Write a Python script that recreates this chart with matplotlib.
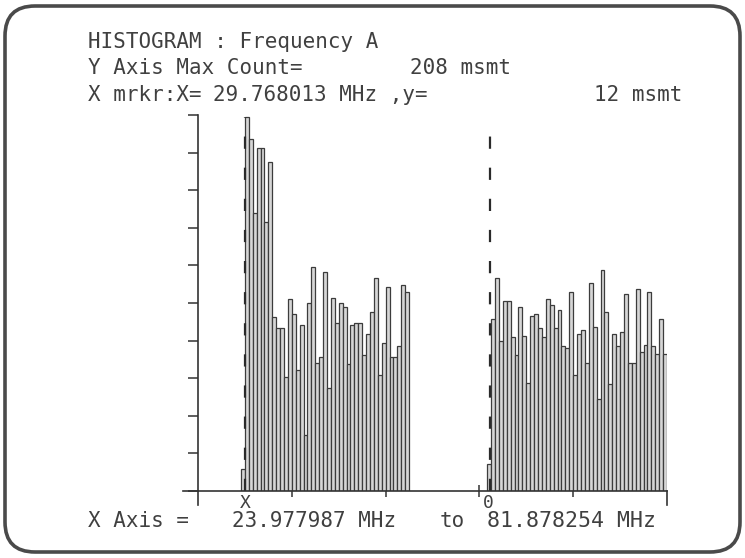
import numpy as np
import matplotlib
matplotlib.use("Agg")
import matplotlib.pyplot as plt
from matplotlib.patches import FancyBboxPatch

# ---------------- data ----------------
x_start_mhz = 23.977987
x_end_mhz = 81.878254
y_axis_max = 208
n_bins = 120
x_marker_mhz = 29.768013
o_marker_mhz = 60.03
marker_count = 12

left_start_bin = 11
left_counts = [12, 207, 195, 154, 190, 190, 149, 182, 96, 90, 90, 63, 106, 98,
               67, 92, 31, 104, 124, 71, 74, 121, 57, 107, 93, 104, 102, 70,
               92, 93, 93, 75, 87, 99, 118, 64, 82, 113, 74, 74, 80, 114, 110]

right_start_bin = 74
right_counts = [15, 95, 118, 83, 105, 105, 85, 75, 102, 86, 60, 97, 98, 90, 85,
                106, 103, 90, 100, 80, 79, 110, 64, 87, 89, 71, 115, 91, 51,
                122, 99, 59, 87, 80, 88, 109, 71, 71, 112, 77, 81, 110, 80, 76,
                95, 76]

header_line1 = "HISTOGRAM : Frequency A"
header_line2 = ("Y Axis Max Count=", "208 msmt")
header_line3 = ("X mrkr:X=", "29.768013 MHz ,y=", "12 msmt")
footer = ("X Axis =", "23.977987 MHz", "to", "81.878254 MHz")

# ---------------- figure ----------------
W, H = 745, 558
fig = plt.figure(figsize=(W / 100, H / 100), dpi=100)
fig.patch.set_facecolor("white")

bg = fig.add_axes([0, 0, 1, 1])
bg.set_xlim(0, W)
bg.set_ylim(H, 0)
bg.axis("off")
frame = FancyBboxPatch((5, 6), 735, 546, boxstyle="round,pad=0,rounding_size=30",
                       fill=False, ec="#4a4a4a", lw=2.6)
bg.add_patch(frame)

txt_color = "#404040"
font = dict(family="DejaVu Sans Mono", fontsize=15, color=txt_color, va="center", ha="left")

def ptext(x, y, s, **kw):
    d = dict(font)
    d.update(kw)
    bg.text(x, y, s, **d)

ptext(88, 42, header_line1)
ptext(88, 68, header_line2[0])
ptext(410, 68, header_line2[1])
ptext(88, 95, header_line3[0])
ptext(213, 95, header_line3[1])
ptext(594, 95, header_line3[2])
ptext(88, 521, footer[0])
ptext(232, 521, footer[1])
ptext(440, 521, footer[2])
ptext(487, 521, footer[3], fontsize=15.5)

# ---------------- chart ----------------
ax_l, ax_r, ax_top, ax_bot = 198, 667, 115, 491
ax = fig.add_axes([ax_l / W, (H - ax_bot) / H, (ax_r - ax_l) / W, (ax_bot - ax_top) / H])
ax.set_facecolor("none")
ax.set_xlim(x_start_mhz, x_end_mhz)
ax.set_ylim(0, y_axis_max)

bw = (x_end_mhz - x_start_mhz) / n_bins
px_x = (x_end_mhz - x_start_mhz) / (ax_r - ax_l)
px_y = y_axis_max / (ax_bot - ax_top)

lx = x_start_mhz + left_start_bin * bw + bw * np.arange(len(left_counts))
rx = x_start_mhz + right_start_bin * bw + bw * np.arange(len(right_counts))
for xs, cs in ((lx, left_counts), (rx, right_counts)):
    ax.bar(xs, cs, width=bw, align="edge", facecolor="#d6d6d6",
           edgecolor="#3c3c3c", linewidth=0.9, zorder=2)

# marker dashed lines
ax.plot([x_marker_mhz, x_marker_mhz], [0, y_axis_max - 1], color="#2a2a2a", lw=1.6,
        dashes=(5.5, 8.5), zorder=3)
ax.plot([o_marker_mhz, o_marker_mhz], [0, y_axis_max - 3], color="#2a2a2a", lw=1.6,
        dashes=(5.5, 8.5), zorder=3)

# axes lines
for s in ("top", "right", "bottom"):
    ax.spines[s].set_visible(False)
ax.spines["left"].set_color("#333333")
ax.spines["left"].set_linewidth(1.2)
ax.plot([x_start_mhz - 15 * px_x, x_end_mhz], [0, 0], color="#333333", lw=1.2,
        clip_on=False, zorder=4)
ax.plot([x_start_mhz, x_start_mhz], [0, -14 * px_y], color="#333333", lw=1.2, clip_on=False)
ax.plot([x_end_mhz, x_end_mhz], [0, -14 * px_y], color="#333333", lw=1.2, clip_on=False)

ax.set_yticks(np.linspace(0, y_axis_max, 11))
ax.tick_params(axis="y", direction="out", length=7, width=1.1, colors="#333333",
               labelleft=False)
ax.set_xticks(np.linspace(x_start_mhz, x_end_mhz, 6)[1:-1])
ax.tick_params(axis="x", direction="inout", length=9, width=1.1, colors="#333333",
               labelbottom=False)

ax.text(x_marker_mhz, -12 * px_y, "X", ha="center", va="center",
        family="DejaVu Sans Mono", fontsize=13, color=txt_color, clip_on=False)
ax.text(o_marker_mhz - 0.2, -12 * px_y, "0", ha="center", va="center",
        family="DejaVu Sans Mono", fontsize=13, color=txt_color, clip_on=False)

fig.savefig("out.png", dpi=100, facecolor="white")
